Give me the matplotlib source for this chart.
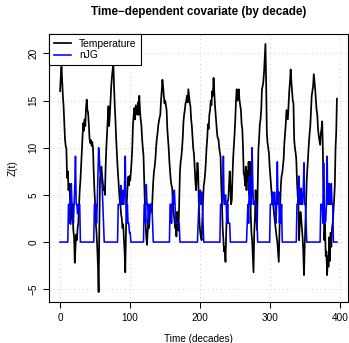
import numpy as np
import matplotlib
matplotlib.use("Agg")
import matplotlib.pyplot as plt

# ---- data ----
temperature = [
    16.0, 17.5, 18.6, 17.0, 15.5, 14.4, 12.5, 10.9, 10.2, 9.9,
    6.8, 7.5, 5.5, 6.2, 5.0, 1.9, 3.0, 4.0, 2.5, 1.2,
    0.5, -2.2, -0.5, 0.8, 0.2, 1.5, 2.0, 3.8, 5.5, 6.5,
    8.0, 9.5, 11.0, 12.6, 11.8, 13.0, 12.3, 14.2, 15.1, 14.0,
    13.7, 12.5, 11.0, 10.5, 10.8, 10.2, 10.6, 9.9, 7.4, 5.5,
    4.0, 2.0, 1.0, -0.5, -2.5, -5.3, 1.5, 6.7, 7.5, 8.0,
    7.0, 6.2, 5.5, 5.8, 5.0, 8.0, 10.0, 11.5, 13.0, 14.4,
    12.3, 13.5, 15.0, 16.5, 17.5, 18.2, 19.0, 16.5, 14.5, 12.9,
    11.0, 9.5, 8.0, 6.8, 5.5, 4.5, 4.0, 3.0, 2.5, 1.5,
    1.9, 0.5, -1.0, -3.2, 1.0, 4.0, 5.5, 6.9, 6.0, 7.0,
    6.5, 7.4, 8.5, 10.0, 12.4, 13.5, 14.2, 13.0, 14.5, 14.0,
    13.5, 14.8, 13.5, 15.5, 14.0, 13.0, 12.4, 11.0, 10.0, 9.2,
    6.5, 4.0, 2.0, 0.5, -0.3, 1.0, 2.5, 1.5, 3.0, 4.0,
    3.5, 3.2, 5.0, 6.5, 7.5, 8.0, 8.8, 10.0, 10.9, 11.5,
    12.3, 12.8, 13.2, 13.5, 15.0, 16.0, 17.2, 16.5, 15.5, 14.7,
    15.0, 14.5, 14.0, 12.0, 11.0, 9.9, 8.5, 7.4, 6.5, 6.0,
    5.7, 4.0, 3.0, 2.5, 1.5, 2.0, 0.6, 3.2, 2.0, 1.2,
    4.5, 7.4, 8.5, 9.0, 9.9, 11.0, 12.7, 13.5, 14.0, 14.7,
    15.0, 15.5, 14.8, 16.2, 15.5, 14.8, 14.4, 13.0, 12.3, 11.0,
    9.9, 9.4, 8.0, 6.5, 5.5, 7.0, 8.4, 7.5, 4.0, 2.0,
    1.0, 0.5, 0.2, 2.5, 4.5, 6.0, 6.5, 7.3, 8.5, 10.0,
    11.0, 12.5, 12.0, 13.5, 14.0, 15.0, 14.5, 16.0, 15.5, 17.4,
    16.0, 14.5, 13.5, 12.5, 11.5, 11.0, 10.9, 10.0, 9.5, 9.0,
    6.0, 4.0, 1.5, 0.2, -1.0, -0.5, -2.1, 1.0, 3.0, 4.3,
    4.5, 6.0, 7.5, 6.0, 4.0, 4.5, 7.0, 9.0, 10.2, 11.5,
    13.0, 15.0, 16.2, 15.0, 15.5, 16.2, 15.0, 14.5, 14.0, 12.5,
    12.0, 10.0, 7.3, 7.0, 6.0, 8.0, 5.5, 7.5, 6.5, 8.5,
    5.0, 8.5, 3.0, 1.0, 0.2, -1.5, -3.2, 1.0, 2.5, 5.5,
    3.0, 1.3, 6.0, 9.8, 11.0, 12.5, 13.0, 14.0, 16.2, 16.5,
    17.0, 18.0, 19.5, 21.0, 17.0, 11.6, 10.5, 10.0, 9.4, 8.0,
    7.0, 6.0, 5.0, 4.5, 4.0, 3.2, 2.5, 1.8, 1.0, 0.5,
    0.0, -1.0, -2.1, 1.0, 3.9, 6.0, 7.0, 7.3, 8.0, 8.8,
    10.5, 11.5, 12.5, 14.0, 13.5, 13.0, 14.5, 16.0, 17.0, 18.3,
    17.0, 16.0, 15.0, 14.7, 10.9, 10.0, 9.5, 8.8, 6.5, 5.0,
    4.0, 0.2, 2.0, 3.2, 2.5, 1.5, 0.5, -1.0, -3.5, -0.5,
    1.9, 4.0, 6.7, 8.0, 9.5, 10.5, 11.5, 12.3, 14.0, 15.5,
    16.0, 16.5, 17.8, 17.0, 16.2, 15.0, 14.0, 13.5, 12.0, 11.3,
    10.8, 10.3, 11.5, 12.0, 12.8, 9.5, 4.0, 0.2, 1.9, -1.5,
    -1.0, -3.5, -1.5, -2.6, 0.5, -2.0, 1.0, -0.5, 1.5, 2.0,
    3.2, 4.5, 6.0, 9.9, 11.6, 15.2,
]

# nJG is zero except inside these windows (start decade -> values)
njg_windows = {
    12: [4, 4, 2, 4, 6.2, 4, 4, 2, 4, 6, 9.1, 4, 4, 3, 4, 4, 4],
    49: [4, 4, 4, 2, 4, 7, 10, 9, 7.5, 7, 7, 6, 4, 2],
    83: [4, 4, 4, 4, 6, 4, 5.5, 4, 4, 6, 9.1, 4, 2, 4, 2, 2, 1, 1],
    120: [4, 4, 2, 6.1, 4, 4, 2, 4, 3, 4, 4, 4, 2],
    157: [4, 4, 2, 4, 5, 4, 5.5, 4, 2, 2, 2, 2, 2, 2],
    197: [2, 4, 5, 5.5, 4, 5.3, 4, 2],
    229: [4, 4, 4, 5, 9.1, 4, 4, 5, 4, 2, 4, 2, 2, 2],
    267: [2, 4, 2, 7, 4, 5, 4, 10, 6, 4, 4, 4.3, 4, 4, 2],
    300: [4, 4, 4, 5.3, 4, 4, 5.3, 4, 2, 4, 8.5, 4, 5.3, 2, 4, 2, 4],
    338: [4, 4, 5.7, 7, 4, 4, 5.7, 4, 4, 5.7, 8.4, 4, 4, 2],
    372: [4, 4, 4, 2, 8.4, 4, 2, 2.2, 4, 9.1, 4, 4, 6.2, 4, 4, 6.2, 4, 4],
}

xticks = [0, 100, 200, 300, 400]
yticks = [-5, 0, 5, 10, 15, 20]

# ---- build series ----
temp = np.array(temperature, dtype=float)
t = np.arange(len(temp))
njg = np.zeros(len(temp))
for start, vals in njg_windows.items():
    njg[start:start + len(vals)] = vals

plt.rcParams['font.family'] = ['Liberation Sans', 'DejaVu Sans']

W, H = 349, 343
fig = plt.figure(figsize=(W / 100, H / 100), dpi=100)
ax = fig.add_axes([49 / W, (H - 302) / H, (348 - 49) / W, (302 - 34) / H])

# R-style 4% range extension
xr = t.max() - t.min()
ax.set_xlim(t.min() - 0.04 * xr, t.max() + 0.04 * xr)
yall = np.concatenate([temp, njg])
yr = yall.max() - yall.min()
ax.set_ylim(yall.min() - 0.04 * yr, yall.max() + 0.04 * yr)

ax.set_xticks(xticks)
ax.set_yticks(yticks)
ax.set_xticklabels([str(v) for v in xticks])
ax.set_yticklabels([str(v).replace('-', '−') for v in yticks], rotation=90, va='center')
ax.tick_params(direction='out', length=4.2, width=0.75, labelsize=7.2, pad=3.5, colors='black')

for x in xticks:
    ax.axvline(x, color='lightgray', lw=0.75, ls=(0, (1, 3)), zorder=0)
for y in yticks:
    ax.axhline(y, color='lightgray', lw=0.75, ls=(0, (1, 3)), zorder=0)

ax.plot(t, temp, color='black', lw=1.25, label='Temperature', zorder=2)
ax.plot(t, njg, color='blue', lw=1.15, label='nJG', zorder=3)

for s in ax.spines.values():
    s.set_linewidth(0.8)
    s.set_color('black')

leg = ax.legend(loc='upper left', frameon=True, fancybox=False, framealpha=1,
                edgecolor='black', fontsize=7.4, borderaxespad=0, handlelength=1.7,
                borderpad=0.45, labelspacing=0.15, handletextpad=0.75)
leg.get_frame().set_linewidth(0.8)

ax.set_title('Time−dependent covariate (by decade)', fontsize=8.4, fontweight='bold', pad=14)
ax.set_xlabel('Time (decades)', fontsize=7.2, labelpad=8)
ax.set_ylabel('Z(t)', fontsize=7.2, labelpad=8)

fig.savefig('out.png', dpi=100)
